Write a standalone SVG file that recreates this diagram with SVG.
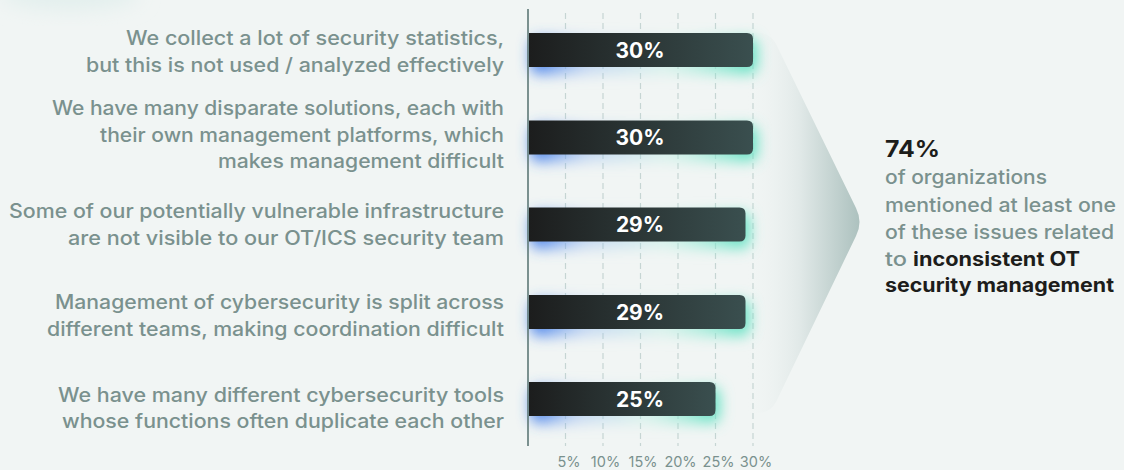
<svg xmlns="http://www.w3.org/2000/svg" width="1124" height="470" viewBox="0 0 1124 470">
  <style>
    .lbl { font-family: Inter, "Noto Sans", "Liberation Sans", sans-serif; font-size: 19.5px; font-weight: 500; fill: #7a918e; }
    .val { font-family: Inter, "Noto Sans", "Liberation Sans", sans-serif; font-size: 21px; font-weight: 700; fill: #ffffff; text-anchor: middle; }
    .tick { font-family: Inter, "Noto Sans", "Liberation Sans", sans-serif; font-size: 14.5px; font-weight: 400; fill: #7a918e; text-anchor: middle; }
    .grid { stroke: #c6d5d3; stroke-width: 1.2; stroke-dasharray: 6 4; fill: none; }
    .bar { fill: url(#barGrad); }
    .glow { fill: url(#glowGrad); filter: url(#blur); }
    .sumg { font-family: Inter, "Noto Sans", "Liberation Sans", sans-serif; font-size: 19.5px; font-weight: 500; fill: #7a918e; }
    .sumb { font-family: Inter, "Noto Sans", "Liberation Sans", sans-serif; font-size: 19.5px; font-weight: 700; fill: #1d1d1b; }
  </style>
  <defs>
    <linearGradient id="barGrad" x1="0" y1="0" x2="1" y2="0">
      <stop offset="0" stop-color="#1c1d1d"/>
      <stop offset="1" stop-color="#3a4f4f"/>
    </linearGradient>
    <linearGradient id="glowGrad" x1="0" y1="0" x2="1" y2="0">
      <stop offset="0" stop-color="#3474ea" stop-opacity="1"/>
      <stop offset="0.25" stop-color="#8fb5f0" stop-opacity="0.45"/>
      <stop offset="0.6" stop-color="#b5eee0" stop-opacity="0.4"/>
      <stop offset="1" stop-color="#58e0bf" stop-opacity="1"/>
    </linearGradient>
    <linearGradient id="chevGrad" gradientUnits="userSpaceOnUse" x1="745" y1="0" x2="866" y2="0">
      <stop offset="0" stop-color="#f1f5f4" stop-opacity="0"/>
      <stop offset="0.45" stop-color="#e1e9e8"/>
      <stop offset="1" stop-color="#a7bdba"/>
    </linearGradient>
    <filter id="blur" x="-20%" y="-80%" width="140%" height="260%">
      <feGaussianBlur stdDeviation="7"/>
    </filter>
    <filter id="softblur" x="-50%" y="-50%" width="200%" height="200%">
      <feGaussianBlur stdDeviation="10"/>
    </filter>
  </defs>

  <rect x="0" y="0" width="1124" height="470" fill="#f1f5f4"/>
  <ellipse cx="70" cy="-6" rx="70" ry="16" fill="#e2efed" filter="url(#softblur)"/>

  <g id="connectors">
    <path d="M 740 33 L 758 33 Q 770 33 776 44 L 856 208 Q 863 222 856 236 L 776 402 Q 770 413 758 413 L 740 413 Z" fill="url(#chevGrad)"/>
  </g>

  <g id="axis">
    <line class="grid" x1="565.5" y1="13" x2="565.5" y2="446"/>
    <line class="grid" x1="603" y1="13" x2="603" y2="446"/>
    <line class="grid" x1="640.5" y1="13" x2="640.5" y2="446"/>
    <line class="grid" x1="678" y1="13" x2="678" y2="446"/>
    <line class="grid" x1="715.5" y1="13" x2="715.5" y2="446"/>
    <line class="grid" x1="753" y1="13" x2="753" y2="446"/>
    <text class="tick" x="569" y="467">5%</text>
    <text class="tick" x="605.5" y="467">10%</text>
    <text class="tick" x="643" y="467">15%</text>
    <text class="tick" x="680.5" y="467">20%</text>
    <text class="tick" x="718.5" y="467">25%</text>
    <text class="tick" x="756" y="467">30%</text>
  </g>

  <g id="row1">
    <rect class="glow" x="531" y="38" width="226" height="36" rx="8"/>
    <path class="bar" d="M 529 33 H 747 Q 753 33 753 39 V 61 Q 753 67 747 67 H 529 Z"/>
    <text class="val" x="640" y="58">30%</text>
    <text class="lbl" text-anchor="end" x="504" y="45" textLength="378" lengthAdjust="spacingAndGlyphs">We collect a lot of security statistics,</text>
    <text class="lbl" text-anchor="end" x="504" y="72" textLength="418" lengthAdjust="spacingAndGlyphs">but this is not used / analyzed effectively</text>
  </g>

  <g id="row2">
    <rect class="glow" x="531" y="125.5" width="226" height="36" rx="8"/>
    <path class="bar" d="M 529 120.5 H 747 Q 753 120.5 753 126.5 V 148.5 Q 753 154.5 747 154.5 H 529 Z"/>
    <text class="val" x="640" y="145">30%</text>
    <text class="lbl" text-anchor="end" x="504" y="115" textLength="452" lengthAdjust="spacingAndGlyphs">We have many disparate solutions, each with</text>
    <text class="lbl" text-anchor="end" x="504" y="142" textLength="404" lengthAdjust="spacingAndGlyphs">their own management platforms, which</text>
    <text class="lbl" text-anchor="end" x="504" y="168" textLength="286" lengthAdjust="spacingAndGlyphs">makes management difficult</text>
  </g>

  <g id="row3">
    <rect class="glow" x="531" y="212.5" width="218.5" height="36" rx="8"/>
    <path class="bar" d="M 529 207.5 H 739.5 Q 745.5 207.5 745.5 213.5 V 235.5 Q 745.5 241.5 739.5 241.5 H 529 Z"/>
    <text class="val" x="640" y="232">29%</text>
    <text class="lbl" text-anchor="end" x="504" y="218" textLength="495" lengthAdjust="spacingAndGlyphs">Some of our potentially vulnerable infrastructure</text>
    <text class="lbl" text-anchor="end" x="504" y="245" textLength="436" lengthAdjust="spacingAndGlyphs">are not visible to our OT/ICS security team</text>
  </g>

  <g id="row4">
    <rect class="glow" x="531" y="300" width="218.5" height="36" rx="8"/>
    <path class="bar" d="M 529 295 H 739.5 Q 745.5 295 745.5 301 V 323 Q 745.5 329 739.5 329 H 529 Z"/>
    <text class="val" x="640" y="319.5">29%</text>
    <text class="lbl" text-anchor="end" x="504" y="309" textLength="449" lengthAdjust="spacingAndGlyphs">Management of cybersecurity is split across</text>
    <text class="lbl" text-anchor="end" x="504" y="336" textLength="457" lengthAdjust="spacingAndGlyphs">different teams, making coordination difficult</text>
  </g>

  <g id="row5">
    <rect class="glow" x="531" y="387" width="188.5" height="36" rx="8"/>
    <path class="bar" d="M 529 382 H 709.5 Q 715.5 382 715.5 388 V 410 Q 715.5 416 709.5 416 H 529 Z"/>
    <text class="val" x="640" y="406.5">25%</text>
    <text class="lbl" text-anchor="end" x="504" y="402" textLength="446" lengthAdjust="spacingAndGlyphs">We have many different cybersecurity tools</text>
    <text class="lbl" text-anchor="end" x="504" y="428" textLength="442" lengthAdjust="spacingAndGlyphs">whose functions often duplicate each other</text>
  </g>

  <g id="axis-line">
    <line x1="528" y1="9" x2="528" y2="446" stroke="#5e7876" stroke-width="1.6"/>
  </g>

  <g id="summary">
    <text class="sumb" x="885" y="157" textLength="55" lengthAdjust="spacingAndGlyphs" style="font-size:23px">74%</text>
    <text class="sumg" x="885" y="184" textLength="162" lengthAdjust="spacingAndGlyphs">of organizations</text>
    <text class="sumg" x="885" y="212" textLength="231" lengthAdjust="spacingAndGlyphs">mentioned at least one</text>
    <text class="sumg" x="885" y="239" textLength="229" lengthAdjust="spacingAndGlyphs">of these issues related</text>
    <text class="sumg" x="885" y="266" textLength="22" lengthAdjust="spacingAndGlyphs">to</text>
    <text class="sumb" x="913" y="266" textLength="167" lengthAdjust="spacingAndGlyphs">inconsistent OT</text>
    <text class="sumb" x="885" y="292" textLength="229" lengthAdjust="spacingAndGlyphs">security management</text>
  </g>
</svg>
